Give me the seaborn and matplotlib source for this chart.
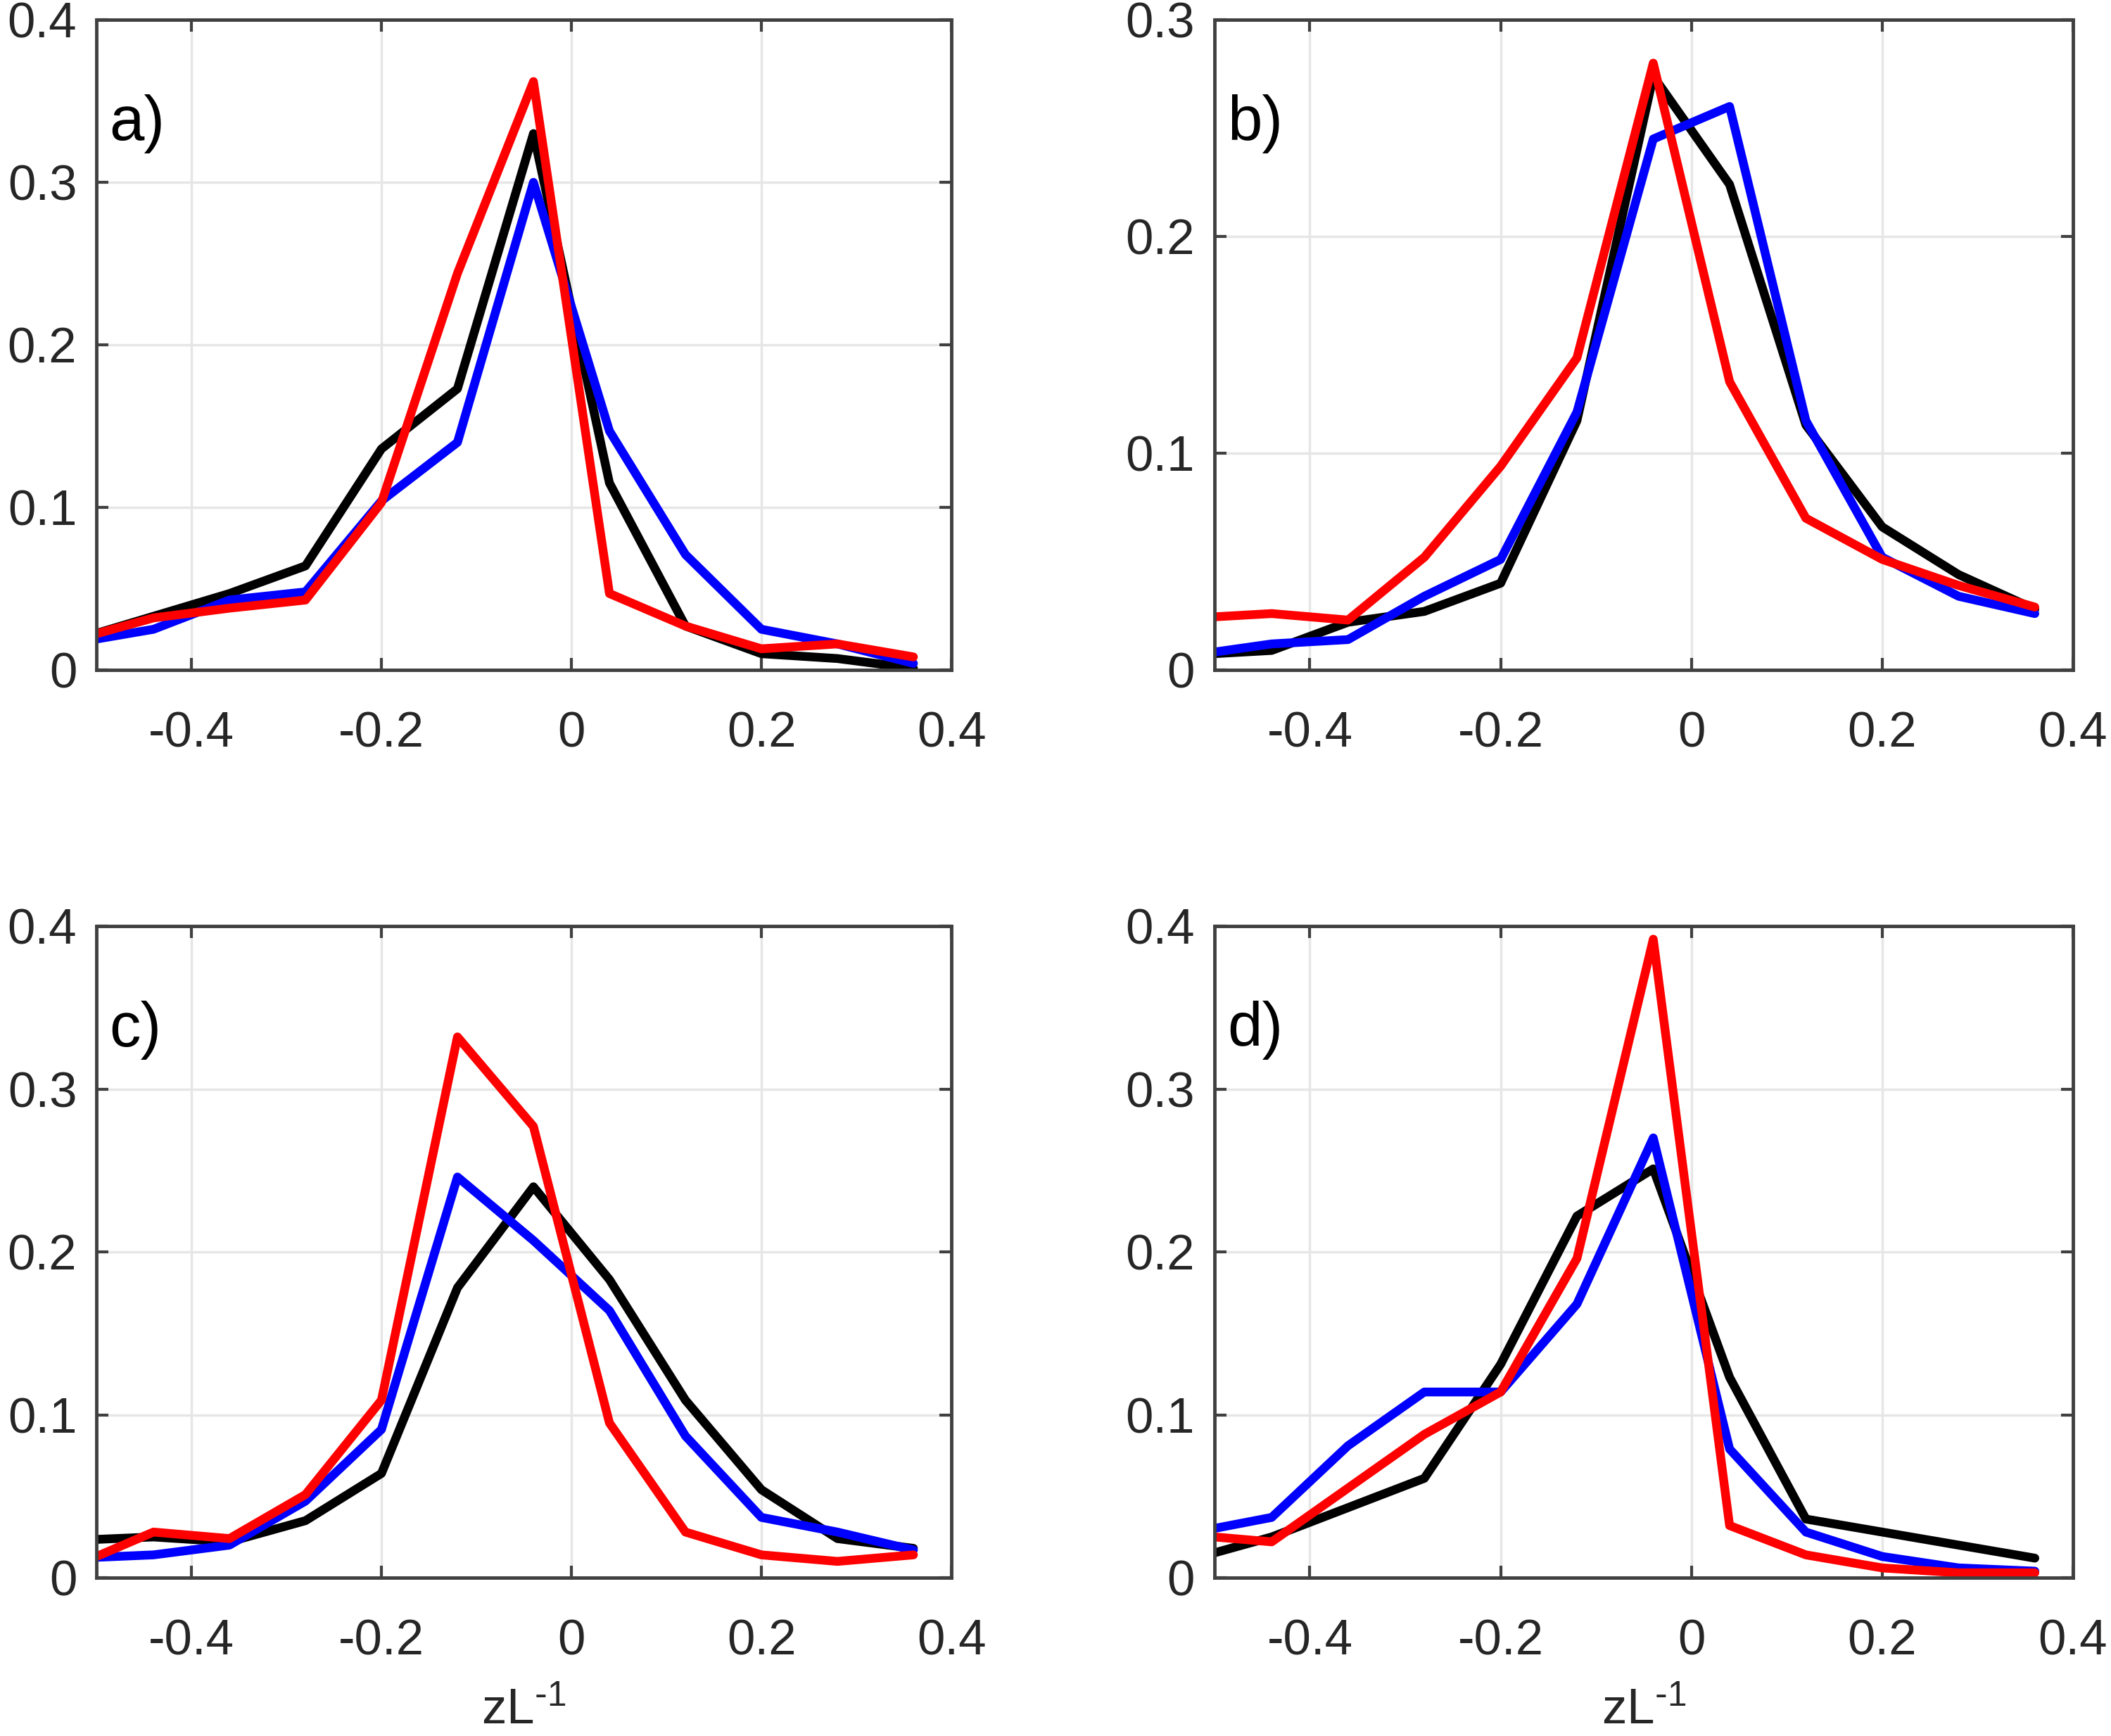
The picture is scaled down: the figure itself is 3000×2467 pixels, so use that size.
#!/usr/bin/env python3
"""
Four-panel comparison of normalised zL^-1 distributions (black / blue / red series).
"""

import numpy as np
import pandas as pd
import matplotlib
matplotlib.use('Agg')
import matplotlib.pyplot as plt
import seaborn as sns

# --- Data (bin centres and per-panel curves) ---
bin_centres = [-0.52, -0.44, -0.36, -0.28, -0.20, -0.12, -0.04, 0.04, 0.12, 0.20, 0.28, 0.36]

a_black = [0.019, 0.033, 0.047, 0.064, 0.136, 0.173, 0.330, 0.115, 0.027, 0.010, 0.007, 0.001]
a_blue = [0.017, 0.025, 0.043, 0.048, 0.104, 0.140, 0.300, 0.147, 0.071, 0.025, 0.016, 0.004]
a_red = [0.019, 0.032, 0.038, 0.043, 0.103, 0.244, 0.362, 0.047, 0.027, 0.013, 0.016, 0.008]

b_black = [0.007, 0.009, 0.022, 0.027, 0.040, 0.115, 0.274, 0.224, 0.113, 0.066, 0.044, 0.028]
b_blue = [0.007, 0.012, 0.014, 0.034, 0.051, 0.119, 0.245, 0.260, 0.115, 0.052, 0.034, 0.026]
b_red = [0.024, 0.026, 0.023, 0.052, 0.094, 0.144, 0.280, 0.133, 0.070, 0.051, 0.039, 0.029]

c_black = [0.023, 0.025, 0.022, 0.035, 0.064, 0.178, 0.240, 0.183, 0.109, 0.054, 0.024, 0.018]
c_blue = [0.012, 0.014, 0.020, 0.047, 0.091, 0.246, 0.207, 0.164, 0.087, 0.037, 0.028, 0.017]
c_red = [0.008, 0.028, 0.024, 0.051, 0.109, 0.332, 0.277, 0.095, 0.028, 0.014, 0.010, 0.014]

d_black = [0.012, 0.025, 0.043, 0.061, 0.131, 0.222, 0.251, 0.123, 0.036, 0.028, 0.020, 0.012]
d_blue = [0.028, 0.037, 0.081, 0.114, 0.114, 0.168, 0.270, 0.079, 0.028, 0.013, 0.006, 0.004]
d_red = [0.026, 0.022, 0.055, 0.088, 0.114, 0.196, 0.392, 0.032, 0.014, 0.006, 0.003, 0.003]

panel_letters = ['a)', 'b)', 'c)', 'd)']
x_ticks = [-0.4, -0.2, 0, 0.2, 0.4]
x_ticklabels = ['-0.4', '-0.2', '0', '0.2', '0.4']
y_ticks_04 = [0, 0.1, 0.2, 0.3, 0.4]
y_ticklabels_04 = ['0', '0.1', '0.2', '0.3', '0.4']
y_ticks_03 = [0, 0.1, 0.2, 0.3]
y_ticklabels_03 = ['0', '0.1', '0.2', '0.3']
x_label = r'zL$^{\text{-}1}$'

series_names = ['black', 'blue', 'red']
series_colours = {'black': '#000000', 'blue': '#0000ff', 'red': '#ff0000'}

panels = {
    'a)': (a_black, a_blue, a_red),
    'b)': (b_black, b_blue, b_red),
    'c)': (c_black, c_blue, c_red),
    'd)': (d_black, d_blue, d_red),
}

# --- Style ---
sns.set_theme(style="whitegrid")
plt.rcParams['font.family'] = ['Liberation Sans', 'DejaVu Sans']
plt.rcParams['mathtext.default'] = 'regular'

TICK_FS = 51
LETTER_FS = 64
TEXT_COL = '#262626'
AXIS_COL = '#404040'

# --- Figure layout (fractions of 3000 x 2467) ---
fig = plt.figure(figsize=(30, 24.67), dpi=100)
rects = {
    'a)': [0.0457, 0.6141, 0.4050, 0.3745],
    'b)': [0.5753, 0.6141, 0.4067, 0.3745],
    'c)': [0.0457, 0.0912, 0.4050, 0.3753],
    'd)': [0.5753, 0.0912, 0.4067, 0.3753],
}

for letter in panel_letters:
    ax = fig.add_axes(rects[letter])
    curves = panels[letter]
    df = pd.DataFrame({
        'x': bin_centres * 3,
        'y': np.concatenate(curves),
        'series': np.repeat(series_names, len(bin_centres)),
    })
    sns.lineplot(data=df, x='x', y='y', hue='series', palette=series_colours,
                 hue_order=series_names, estimator=None, sort=False,
                 linewidth=9.0, legend=False, ax=ax)

    ax.set_xlim(-0.5, 0.4)
    if letter == 'b)':
        ax.set_ylim(0, 0.3)
        ax.set_yticks(y_ticks_03)
        ax.set_yticklabels(y_ticklabels_03)
    else:
        ax.set_ylim(0, 0.4)
        ax.set_yticks(y_ticks_04)
        ax.set_yticklabels(y_ticklabels_04)
    ax.set_xticks(x_ticks)
    ax.set_xticklabels(x_ticklabels)

    ax.grid(True, color='#e6e6e6', linewidth=2.5)
    ax.set_axisbelow(True)
    for side in ax.spines.values():
        side.set_visible(True)
        side.set_color(AXIS_COL)
        side.set_linewidth(3.5)

    ax.tick_params(axis='both', which='major', direction='in', length=12, width=3,
                   color=AXIS_COL, labelcolor=TEXT_COL, labelsize=TICK_FS,
                   top=True, right=True, bottom=True, left=True)
    ax.tick_params(axis='x', pad=42)
    ax.tick_params(axis='y', pad=20)

    ax.set_xlabel('')
    ax.set_ylabel('')
    if letter in ('c)', 'd)'):
        ax.set_xlabel(x_label, fontsize=TICK_FS, color=TEXT_COL, labelpad=24)

    ax.text(0.015, 0.815, letter, transform=ax.transAxes, fontsize=LETTER_FS,
            color='black', ha='left', va='baseline')

fig.savefig('out.png', dpi=100)
